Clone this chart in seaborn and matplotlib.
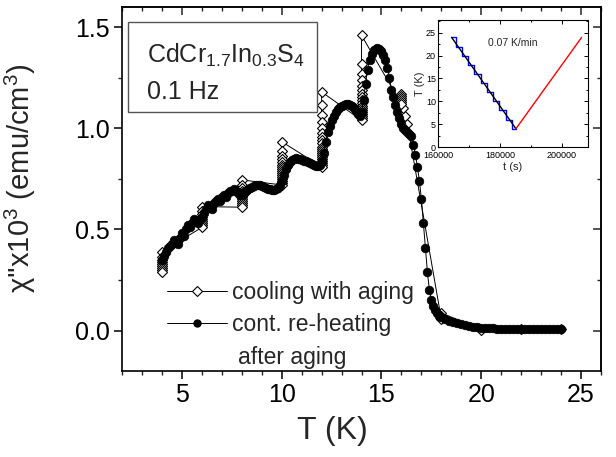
import matplotlib
matplotlib.use("Agg")
import matplotlib.pyplot as plt
from matplotlib.lines import Line2D
from matplotlib.patches import Rectangle
from matplotlib.ticker import MultipleLocator
import pandas as pd
import seaborn as sns

# ---- continuous re-heating after aging (filled circles) ----
heat_T = [
    4.0, 4.1, 4.2, 4.3, 4.4, 4.5, 4.6, 4.7, 4.8, 4.9,
    5.0, 5.1, 5.2, 5.3, 5.4, 5.5, 5.6, 5.7, 5.8, 5.9,
    6.0, 6.1, 6.2, 6.3, 6.4, 6.5, 6.6, 6.7, 6.8, 6.9,
    7.0, 7.1, 7.2, 7.3, 7.4, 7.5, 7.6, 7.7, 7.8, 7.9,
    8.0, 8.1, 8.2, 8.3, 8.4, 8.5, 8.6, 8.7, 8.8, 8.9,
    9.0, 9.1, 9.2, 9.3, 9.4, 9.5, 9.6, 9.7, 9.8, 9.9,
    10.0, 10.1, 10.2, 10.3, 10.4, 10.5, 10.6, 10.7, 10.8, 10.9,
    11.0, 11.1, 11.2, 11.3, 11.4, 11.5, 11.6, 11.7, 11.8, 11.9,
    12.0, 12.1, 12.2, 12.3, 12.4, 12.5, 12.6, 12.7, 12.8, 12.9,
    13.0, 13.1, 13.2, 13.3, 13.4, 13.5, 13.6, 13.7, 13.8, 13.9,
    14.0, 14.1, 14.2, 14.3, 14.4, 14.5, 14.6, 14.7, 14.8, 14.9,
    15.0, 15.1, 15.2, 15.3, 15.4, 15.5, 15.6, 15.7, 15.8, 15.9,
    16.0, 16.1, 16.2, 16.3, 16.4, 16.5, 16.6, 16.7, 16.8, 16.9,
    17.0, 17.1, 17.2, 17.3, 17.4, 17.5, 17.6, 17.7, 17.8, 17.9,
    18.0, 18.2, 18.4, 18.6, 18.8, 19.0, 19.2, 19.4, 19.6, 19.8,
    20.0, 20.2, 20.4, 20.6, 20.8, 21.0, 21.2, 21.4, 21.6, 21.8,
    22.0, 22.2, 22.4, 22.6, 22.8, 23.0, 23.2, 23.4, 23.6, 23.8,
    24.0,
]
heat_chi = [
    0.35, 0.37, 0.39, 0.41, 0.42, 0.43, 0.45, 0.44, 0.43, 0.46,
    0.48, 0.47, 0.50, 0.52, 0.51, 0.53, 0.55, 0.54, 0.53, 0.55,
    0.56, 0.58, 0.60, 0.62, 0.61, 0.60, 0.63, 0.64, 0.65, 0.64,
    0.66, 0.67, 0.66, 0.68, 0.69, 0.69, 0.70, 0.69, 0.68, 0.67,
    0.67, 0.68, 0.69, 0.70, 0.705, 0.71, 0.715, 0.72, 0.72, 0.72,
    0.715, 0.71, 0.705, 0.70, 0.70, 0.695, 0.695, 0.70, 0.705, 0.72,
    0.74, 0.77, 0.80, 0.82, 0.835, 0.845, 0.85, 0.852, 0.85, 0.847,
    0.843, 0.84, 0.836, 0.832, 0.828, 0.824, 0.82, 0.816, 0.815, 0.82,
    0.84, 0.88, 0.93, 0.98, 1.01, 1.04, 1.06, 1.08, 1.095, 1.105,
    1.11, 1.115, 1.12, 1.12, 1.115, 1.11, 1.10, 1.085, 1.07, 1.06,
    1.08, 1.14, 1.22, 1.29, 1.34, 1.37, 1.385, 1.393, 1.395, 1.39,
    1.38, 1.365, 1.34, 1.30, 1.25, 1.19, 1.155, 1.115, 1.08, 1.05,
    1.02, 1.00, 0.99, 0.98, 0.97, 0.96, 0.92, 0.87, 0.81, 0.74,
    0.65, 0.53, 0.41, 0.29, 0.20, 0.15, 0.12, 0.10, 0.085, 0.074,
    0.066, 0.056, 0.048, 0.041, 0.035, 0.030, 0.026, 0.022, 0.019, 0.017,
    0.015, 0.013, 0.012, 0.011, 0.010, 0.010, 0.009, 0.009, 0.009, 0.008,
    0.008, 0.008, 0.008, 0.007, 0.007, 0.007, 0.007, 0.007, 0.006, 0.006,
    0.006,
]

# ---- stepwise cooling with aging stops (open diamonds), in time order ----
cool_T = [
    24.0, 22.0, 20.0,
    18.0, 18.0, 18.0, 18.0,
    16.3, 16.2, 16.1,
    16.0, 16.0, 16.0, 16.0, 16.0, 16.0,
    14.0, 14.0, 14.0, 14.0, 14.0, 14.0, 14.0, 14.0, 14.0,
    14.0, 14.0, 14.0, 14.0, 14.0, 14.0, 14.0, 14.0, 14.0,
    12.0, 12.0, 12.0, 12.0, 12.0, 12.0, 12.0, 12.0, 12.0, 12.0,
    12.0, 12.0, 12.0, 12.0, 12.0, 12.0, 12.0, 12.0, 12.0, 12.0,
    10.0, 10.0, 10.0, 10.0, 10.0, 10.0, 10.0, 10.0,
    10.0, 10.0, 10.0, 10.0, 10.0, 10.0, 10.0, 10.0,
    8.0, 8.0, 8.0, 8.0, 8.0, 8.0, 8.0, 8.0, 8.0, 8.0, 8.0, 8.0,
    6.0, 6.0, 6.0, 6.0, 6.0, 6.0, 6.0, 6.0, 6.0,
    4.0, 4.0, 4.0, 4.0, 4.0, 4.0, 4.0, 4.0, 4.0,
]
cool_chi = [
    0.010, 0.010, 0.005,
    0.087, 0.070, 0.060, 0.055,
    1.02, 1.06, 1.10,
    1.17, 1.16, 1.15, 1.14, 1.13, 1.12,
    1.46, 1.32, 1.27, 1.24, 1.21, 1.19, 1.17, 1.155, 1.14,
    1.125, 1.11, 1.10, 1.09, 1.08, 1.07, 1.06, 1.05, 1.04,
    1.18, 1.115, 1.066, 1.03, 1.00, 0.975, 0.955, 0.94, 0.925, 0.91,
    0.90, 0.89, 0.88, 0.87, 0.86, 0.85, 0.84, 0.83, 0.82, 0.81,
    0.934, 0.89, 0.865, 0.85, 0.835, 0.82, 0.81, 0.80,
    0.79, 0.78, 0.77, 0.76, 0.75, 0.74, 0.73, 0.72,
    0.745, 0.72, 0.705, 0.69, 0.68, 0.67, 0.66, 0.65, 0.64, 0.63, 0.62, 0.61,
    0.613, 0.59, 0.575, 0.56, 0.55, 0.54, 0.53, 0.52, 0.51,
    0.39, 0.365, 0.35, 0.34, 0.33, 0.32, 0.31, 0.30, 0.29,
]

# ---- temperature protocol (inset) ----
step_t = [164100, 165800, 167850, 169800, 171700, 173800,
          175700, 177850, 179800, 181850, 183800, 185150]
step_T = [24, 22, 20, 18, 16, 14, 12, 10, 8, 6, 4, 4]
ramp_t = [164400, 185150]
ramp_T = [24, 4]
reheat_t = [185150, 206350]
reheat_T = [4, 24]

x_ticks = [5, 10, 15, 20, 25]
y_ticks = [0.0, 0.5, 1.0, 1.5]

sns.set_theme(style="ticks")
plt.rcParams["font.family"] = ["Liberation Sans", "DejaVu Sans"]
plt.rcParams["mathtext.fontset"] = "custom"
plt.rcParams["mathtext.rm"] = "Liberation Sans"
plt.rcParams["mathtext.it"] = "Liberation Sans:italic"
plt.rcParams["mathtext.default"] = "regular"
plt.rcParams["axes.linewidth"] = 1.2

fig = plt.figure(figsize=(6.16, 4.57), dpi=100)
ax = fig.add_axes([0.1981, 0.1882, 0.7776, 0.7965])

cool_df = pd.DataFrame({"T": cool_T, "chi": cool_chi})
heat_df = pd.DataFrame({"T": heat_T, "chi": heat_chi})

sns.lineplot(data=cool_df, x="T", y="chi", sort=False, estimator=None,
             color="black", lw=0.7, marker="D", markersize=4.7,
             markerfacecolor="white", markeredgecolor="black",
             markeredgewidth=0.8, ax=ax, legend=False)
sns.lineplot(data=heat_df, x="T", y="chi", sort=False, estimator=None,
             color="black", lw=0.7, marker="o", markersize=6.2,
             markerfacecolor="black", markeredgecolor="black",
             markeredgewidth=0.5, ax=ax, legend=False)

ax.set_xlim(2, 26)
ax.set_ylim(-0.2, 1.6)
ax.set_xticks(x_ticks)
ax.set_yticks(y_ticks)
ax.set_yticklabels([f"{v:.1f}" for v in y_ticks])
ax.xaxis.set_minor_locator(MultipleLocator(1))
ax.yaxis.set_minor_locator(MultipleLocator(0.25))
ax.tick_params(which="major", direction="out", length=6, width=1.1,
               labelsize=18, pad=3, colors="black")
ax.tick_params(which="minor", direction="out", length=3, width=1.0)
for s in ax.spines.values():
    s.set_visible(True)
    s.set_linewidth(1.2)
    s.set_color("black")

top = ax.secondary_xaxis("top")
top.set_xticks(x_ticks)
top.xaxis.set_minor_locator(MultipleLocator(1))
top.tick_params(which="major", direction="in", length=6, width=1.1, labeltop=False)
top.tick_params(which="minor", direction="in", length=3, width=1.0)
right = ax.secondary_yaxis("right")
right.set_yticks(y_ticks)
right.yaxis.set_minor_locator(MultipleLocator(0.25))
right.tick_params(which="major", direction="in", length=6, width=1.1, labelright=False)
right.tick_params(which="minor", direction="in", length=3, width=1.0)

ax.set_xlabel("T (K)", fontsize=23)
ax.xaxis.set_label_coords(0.44, -0.125)
ax.set_ylabel("χ''x10$^3$ (emu/cm$^3$)", fontsize=21)
ax.yaxis.set_label_coords(-0.175, 0.53)

# sample / frequency box
ax.add_patch(Rectangle((0.0125, 0.7115), 0.3945, 0.2475, transform=ax.transAxes,
                       fill=True, facecolor="white", edgecolor="#555555",
                       lw=1.0, zorder=5))
ax.text(0.052, 0.868, "CdCr$_{1.7}$In$_{0.3}$S$_4$", transform=ax.transAxes,
        fontsize=18, va="center", ha="left", zorder=6)
ax.text(0.052, 0.766, "0.1 Hz", transform=ax.transAxes,
        fontsize=18, va="center", ha="left", zorder=6)

# legend
handles = [
    Line2D([], [], color="black", lw=0.7, marker="D", markersize=4.7,
           markerfacecolor="white", markeredgecolor="black", markeredgewidth=0.8),
    Line2D([], [], color="black", lw=0.7, marker="o", markersize=5.0,
           markerfacecolor="black", markeredgecolor="black"),
]
ax.legend(handles, ["cooling with aging", "cont. re-heating"],
          loc="upper left", bbox_to_anchor=(0.094, 0.247), frameon=False,
          fontsize=16.5, handlelength=2.6, handletextpad=0.25,
          labelspacing=0.38, borderpad=0, borderaxespad=0)
ax.text(0.242, 0.036, "after aging", transform=ax.transAxes,
        fontsize=16.5, va="center", ha="left")

# inset: temperature vs time
ins = fig.add_axes([0.7110, 0.6783, 0.2435, 0.2779])
sns.lineplot(x=step_t, y=step_T, sort=False, estimator=None, color="#0000ff",
             lw=1.0, drawstyle="steps-post", ax=ins)
sns.lineplot(x=ramp_t, y=ramp_T, sort=False, estimator=None, color="black",
             lw=1.0, ax=ins)
sns.lineplot(x=reheat_t, y=reheat_T, sort=False, estimator=None, color="#ff0000",
             lw=1.0, ax=ins)
ins.set_xlim(160000, 208400)
ins.set_ylim(0, 27.8)
ins.set_xticks([160000, 180000, 200000])
ins.set_yticks([0, 5, 10, 15, 20, 25])
ins.xaxis.set_minor_locator(MultipleLocator(10000))
ins.yaxis.set_minor_locator(MultipleLocator(2.5))
ins.tick_params(which="both", direction="in", top=True, right=True,
                labelsize=6.5, width=0.7, colors="black")
ins.tick_params(axis="x", pad=3)
ins.tick_params(axis="y", pad=1.5)
ins.tick_params(which="major", length=3)
ins.tick_params(which="minor", length=1.6)
for s in ins.spines.values():
    s.set_linewidth(0.8)
    s.set_color("black")
ins.set_xlabel("t (s)", fontsize=8, labelpad=1)
ins.set_ylabel("T (K)", fontsize=8, labelpad=1)
ins.text(0.5, 0.82, "0.07 K/min", transform=ins.transAxes, fontsize=7.5,
         ha="center", va="center")

fig.savefig("out.png", dpi=100)
